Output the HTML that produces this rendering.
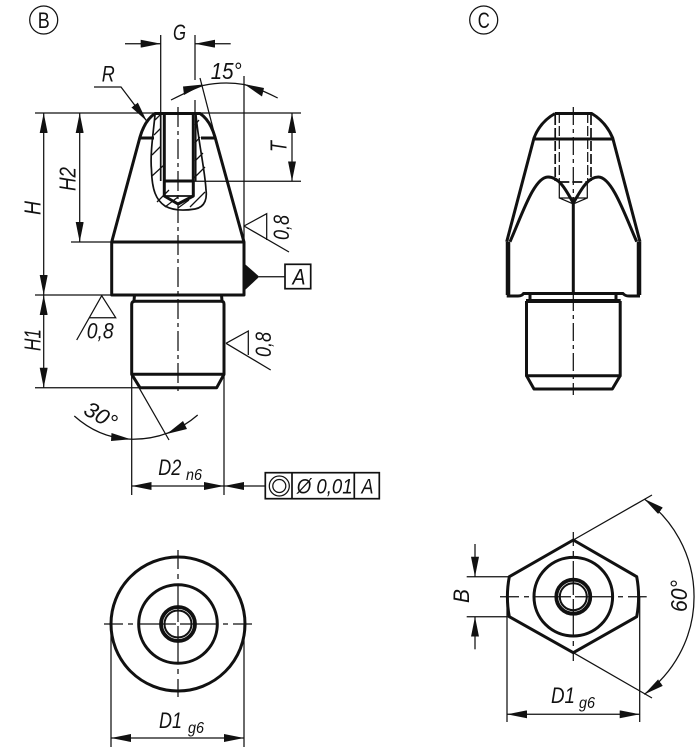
<!DOCTYPE html>
<html><head><meta charset="utf-8"><style>
html,body{margin:0;padding:0;background:#fff}
svg{display:block}
text{font-family:"Liberation Sans",sans-serif;font-style:italic;fill:#111;stroke:none}
.k{fill:none;stroke:#111;stroke-width:3;stroke-linejoin:round}
.t{fill:none;stroke:#111;stroke-width:1.25}
.m{fill:none;stroke:#111;stroke-width:1.7}
.a{marker-end:url(#ar)}
.aa{marker-end:url(#ar);marker-start:url(#ar)}
.c{fill:none;stroke:#111;stroke-width:1.25;stroke-dasharray:20 4 4 4}
</style></head><body>
<svg width="699" height="750" viewBox="0 0 699 750" xmlns="http://www.w3.org/2000/svg">
<defs><marker id="ar" markerUnits="userSpaceOnUse" markerWidth="20" markerHeight="8" viewBox="0 0 20 8" refX="20" refY="4" orient="auto-start-reverse"><path d="M0 0L20 4L0 8z" fill="#111"/></marker></defs>

<!-- labels B C -->
<circle class="t" cx="43.7" cy="20" r="14"/>
<text x="43.7" y="28" font-size="22" text-anchor="middle" textLength="12" lengthAdjust="spacingAndGlyphs" style="font-style:normal">B</text>
<circle class="t" cx="483.7" cy="20" r="14"/>
<text x="483.7" y="28" font-size="22" text-anchor="middle" textLength="12" lengthAdjust="spacingAndGlyphs" style="font-style:normal">C</text>

<!-- VIEW B: body -->
<path class="k" d="M111.7 242L140 137Q145 120 155 113.5H200Q210 120 215 137L244 242V295H111.7Z"/>
<path class="k" d="M111.7 242H244M140 138H154M201 138H215"/>
<path class="k" d="M134.5 295L134 301M221.5 295L222 301"/>
<path class="k" d="M131.7 304Q132 301.3 135 301.3H221Q224 301.3 224 304V374.3H131.7Z"/>
<path class="k" d="M131.7 374.3L140 387.7H216.7L224 374.3"/>
<!-- bore -->
<path class="k" d="M164.3 113V181M193.3 113V181M164.3 181H193.3M164.3 181V196L178 204L193.3 196V181"/>
<path class="m" d="M160.7 113V181M195.7 113V181M164 196H193"/>
<path class="m" d="M155 115C153 135 150 155 151.5 170C152 190 156 200 165 206C172 210 183 211 195 209C206 207 207 197 206 190C205 170 198 140 196 115"/>
<path class="t" d="M152 176L164 165M152 155L161 146M154 135L161 128M155 120L160 115M157 202L169 190M165 207L178 197M178 208L189 200M190 207L205 192M194 178L205 167M195 161L203 153M195 143L200 137M195 125L199 120"/>
<path class="c" d="M178 107V395"/>

<!-- G -->
<path class="t" d="M160.7 35V113M195 35V80M195 100V113"/>
<path class="t a" d="M125 43.7H160.7"/><path class="t a" d="M230.7 43.7H195"/>
<text x="173" y="40" font-size="22" textLength="13" lengthAdjust="spacingAndGlyphs">G</text>
<!-- top line, dims -->
<path class="t" d="M35 113H301M164 181.3H301M244 76V242M111.7 242H71M35 295H112M35 387.7H140"/>
<path class="t aa" d="M43.7 113V295"/>
<path class="t aa" d="M43.7 295V387.7"/>
<path class="t aa" d="M79.7 113V242"/>
<path class="t aa" d="M292 113V181.3"/>
<text transform="translate(40.7 215) rotate(-90)" font-size="23" textLength="14" lengthAdjust="spacingAndGlyphs">H</text>
<text transform="translate(75.7 191) rotate(-90)" font-size="23" textLength="24" lengthAdjust="spacingAndGlyphs">H2</text>
<text transform="translate(40.7 351) rotate(-90)" font-size="23" textLength="22" lengthAdjust="spacingAndGlyphs">H1</text>
<text transform="translate(286.7 152) rotate(-90)" font-size="23" textLength="11" lengthAdjust="spacingAndGlyphs">T</text>
<!-- R -->
<path class="t a" d="M94 87H121L146.7 121"/>
<text x="101.7" y="81.7" font-size="22" textLength="13" lengthAdjust="spacingAndGlyphs">R</text>
<!-- 15 deg -->
<path class="t" d="M200 78L215 136"/>
<path class="t" d="M171 100Q195 88 203 85.5"/>
<path class="t" d="M277.7 98Q258 88 244 84.5"/>
<path class="t" d="M203 85.5Q224 81 244 84.5"/>
<polygon fill="#111" points="203,84.5 183,86.5 184,95"/>
<polygon fill="#111" points="244,84 264,88 262,96.5"/>
<text x="210.7" y="79" font-size="23" textLength="31" lengthAdjust="spacingAndGlyphs">15°</text>
<!-- surface symbols -->
<path class="t" d="M244 226L266.7 213.7V240M244 226L289 252"/>
<text transform="translate(289 240) rotate(-90)" font-size="22" textLength="25" lengthAdjust="spacingAndGlyphs">0,8</text>
<path class="t" d="M76.7 340L101.7 295.7L115.7 317.7H89.3"/>
<text x="86.7" y="338.3" font-size="22" textLength="27" lengthAdjust="spacingAndGlyphs">0,8</text>
<path class="t" d="M226 343.3L248.3 331V355M226 343.3L270.7 370"/>
<text transform="translate(271 357) rotate(-90)" font-size="22" textLength="25" lengthAdjust="spacingAndGlyphs">0,8</text>
<!-- datum A -->
<polygon fill="#111" points="244,263.3 259.3,276.7 244,291"/>
<path class="t" d="M259 276.7H285"/>
<rect class="m" x="285" y="264.3" width="25.7" height="24.4"/>
<text x="292.5" y="284.3" font-size="22" textLength="13" lengthAdjust="spacingAndGlyphs">A</text>
<!-- 30 deg -->
<path class="t" d="M132.7 376.7L169 440"/>
<path class="t" d="M74.3 416Q100 439 133 439.3Q170 439 197.7 415"/>
<polygon fill="#111" points="131,439.3 111.5,433 111,441"/>
<polygon fill="#111" points="166.7,434 183,421 187,429"/>
<text transform="translate(97 422) rotate(30)" font-size="22" text-anchor="middle" textLength="34" lengthAdjust="spacingAndGlyphs">30°</text>
<!-- D2 -->
<path class="t" d="M131.7 374V495M224 374V495"/>
<path class="t aa" d="M131.7 486H224"/>
<path class="t a" d="M265 486H224"/>
<text x="158.3" y="475" font-size="22" textLength="23" lengthAdjust="spacingAndGlyphs">D2</text>
<text x="186" y="480" font-size="16" textLength="16" lengthAdjust="spacingAndGlyphs">n6</text>
<rect class="m" x="265.3" y="472.7" width="114" height="26"/>
<path class="m" d="M292 472.7V498.7M354.3 472.7V498.7"/>
<circle class="t" cx="279.3" cy="486" r="10"/><circle class="t" cx="279.3" cy="486" r="6.5"/>
<text x="296.7" y="493.3" font-size="21" textLength="56" lengthAdjust="spacingAndGlyphs">Ø 0,01</text>
<text x="361.5" y="493.3" font-size="21" textLength="12" lengthAdjust="spacingAndGlyphs">A</text>

<!-- VIEW B bottom -->
<circle class="k" cx="178" cy="624" r="67"/>
<circle class="k" cx="178" cy="624" r="39.3"/>
<circle fill="none" stroke="#111" stroke-width="3.8" cx="178" cy="624" r="17"/>
<circle fill="none" stroke="#111" stroke-width="2" cx="178" cy="624" r="13.5"/>
<path class="t" d="M104 624H123M128 624H133M138 624H176M180 624H218M223 624H228M233 624H252M178 550V569M178 574V579M178 584V622M178 626V664M178 669V674M178 679V697"/>
<path class="t" d="M111 624V747M244 624V747"/>
<path class="t aa" d="M111 738H244"/>
<text x="159" y="728" font-size="22" textLength="23" lengthAdjust="spacingAndGlyphs">D1</text>
<text x="188" y="733" font-size="16" textLength="16" lengthAdjust="spacingAndGlyphs">g6</text>

<!-- VIEW C front -->
<path class="k" d="M555 113.5H591.7Q606 122 612.7 138L640 241.7M555 113.5Q540 122 534 138L506.7 241.7"/>
<path class="k" d="M534 139H612.7"/>
<path fill="none" stroke="#111" stroke-width="4.5" d="M508 241.7V295M639 241.7V295"/>
<path class="k" d="M506.7 296H518Q522 296 523.5 293.5H623Q625 296 629 296H640"/>
<path class="k" d="M510 241.7C522 215 534 177 548 177C560 177 567 192 573.3 203C580 192 587 177 598.3 177C612 177 625 215 636.7 241.7"/>
<path class="k" d="M573.3 203V293"/>
<path class="k" d="M530 294V300M616 294V300"/>
<path fill="none" stroke="#111" stroke-width="4" d="M526 301H620.7"/>
<path class="k" d="M526.5 301V375.7H620.2V301"/>
<path class="k" d="M526.5 375.7L534 389H612.3L620.2 375.7"/>
<path class="t" d="M559.3 113V181M587.7 113V181" stroke-dasharray="10 3"/>
<path class="m" d="M555.2 115V181M591 115V181M559.3 182H588" stroke-dasharray="10 3"/>
<path class="t" d="M559.3 182V198L573.3 204L587.3 198V182M559.3 198H587.3"/>
<path class="t" d="M573.3 107V206M573.3 293V395" stroke-dasharray="18 4 4 4"/>

<!-- VIEW C bottom -->
<path class="k" d="M573.3 540L636.7 576.7Q640.5 596.7 636.7 616.7L573.3 652.7L509.3 616.7Q505.5 596.7 509.3 576.7Z"/>
<circle class="k" cx="573.3" cy="596.7" r="39.3"/>
<circle fill="none" stroke="#111" stroke-width="3.8" cx="573.3" cy="596.7" r="17"/>
<circle fill="none" stroke="#111" stroke-width="2" cx="573.3" cy="596.7" r="13.5"/>
<path class="t" d="M500 596.7H519M524 596.7H529M534 596.7H571M575 596.7H613M618 596.7H623M628 596.7H646.7M573.3 532V546M573.3 551V556M573.3 561V595M573.3 599V636M573.3 641V646M573.3 651V661"/>
<path class="t" d="M507 597V722M639.7 597V722"/>
<path class="t aa" d="M507 714.3H639.7"/>
<text x="551" y="703" font-size="22" textLength="24" lengthAdjust="spacingAndGlyphs">D1</text>
<text x="579" y="708" font-size="16" textLength="16" lengthAdjust="spacingAndGlyphs">g6</text>
<path class="t" d="M573.3 540L652 495M573.3 652.7L652 698"/>
<path class="t aa" d="M644.3 499A120.8 120.8 0 0 1 644.3 694.4"/>
<text transform="translate(687 612) rotate(-90)" font-size="23" textLength="32" lengthAdjust="spacingAndGlyphs">60°</text>
<path class="t" d="M466.7 576.7H509M466.7 616.7H509"/>
<path class="t a" d="M475 544V576.7"/><path class="t a" d="M475 649.3V616.7"/>
<text transform="translate(469 603) rotate(-90)" font-size="22" textLength="14" lengthAdjust="spacingAndGlyphs">B</text>
</svg>
</body></html>
